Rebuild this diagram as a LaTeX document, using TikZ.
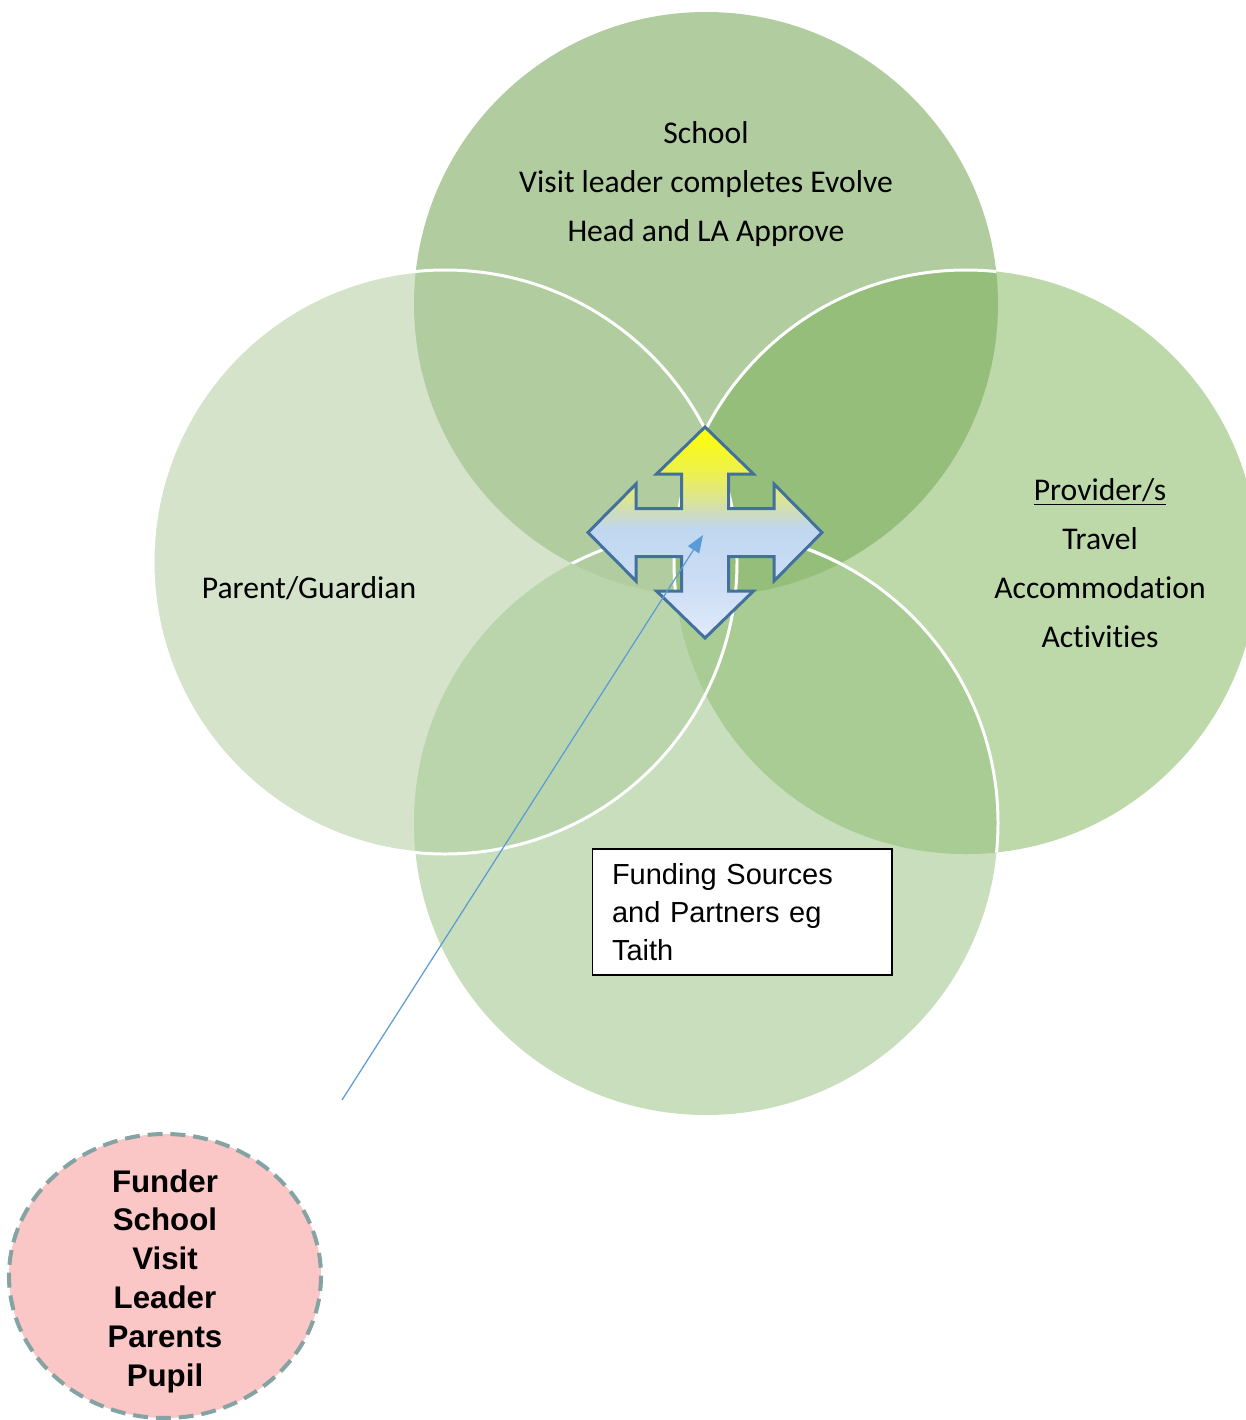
\documentclass[tikz,border=0pt]{standalone}
\usepackage{fontspec}
\setmainfont{Carlito}[RawFeature={-liga}]
\newfontfamily\arialfont{Liberation Sans}
\usetikzlibrary{arrows.meta,shapes.geometric,positioning}

\definecolor{leftc}{HTML}{D5E3CB}
\definecolor{topc}{HTML}{B1CD9F}
\definecolor{rightc}{HTML}{BDD9AA}
\definecolor{botc}{HTML}{C8DEBC}
\definecolor{leftbotc}{HTML}{BAD5AC}
\definecolor{toprightc}{HTML}{96BE7B}
\definecolor{rightbotc}{HTML}{A8CC94}
\definecolor{quadline}{HTML}{41719C}
\definecolor{pointerc}{HTML}{5B9BD5}
\definecolor{pinkc}{HTML}{FBC6C6}
\definecolor{dashc}{HTML}{86A3A3}
\definecolor{q0}{RGB}{225,235,250}
\definecolor{q1}{RGB}{205,222,245}
\definecolor{q2}{RGB}{192,215,240}
\definecolor{q3}{RGB}{205,220,190}
\definecolor{q4}{RGB}{220,228,150}
\definecolor{q5}{RGB}{236,240,80}
\pgfdeclareverticalshading{quadfill}{100bp}{color(0bp)=(q0); color(25bp)=(q0);
  color(37bp)=(q1); color(51bp)=(q2); color(54.6bp)=(q3); color(57.7bp)=(q4);
  color(64bp)=(q5); color(75bp)=(yellow); color(100bp)=(yellow)}

\tikzset{
  venntext/.style={font=\fontsize{18}{27.9}\selectfont, align=center, inner sep=0},
  rim/.style={white, line width=1.7pt},
  quad/.style={shade, shading=quadfill, draw=quadline, line width=1.7pt, line join=miter},
  pointer/.style={draw=pointerc, line width=0.7pt, -{Triangle[length=10pt,width=7.5pt]}},
  fundbox/.style={draw, fill=white, line width=0.6pt, align=left, text width=5.2cm,
    inner xsep=0.4cm, minimum height=2.52cm,
    font=\arialfont\fontsize{16.5}{21.6}\selectfont},
  team/.style={align=center, inner sep=0, font=\arialfont\bfseries\fontsize{17.8}{22.1}\selectfont},
  teamring/.style={fill=pinkc, draw=dashc, line width=2.3pt, dash pattern=on 8.5pt off 4.5pt}
}

\begin{document}
\begin{tikzpicture}[x=0.02cm, y=-0.02cm]
  \useasboundingbox (0,0) rectangle (1246,1420);
  \coordinate (top) at (706,304);
  \coordinate (left) at (445,562);
  \coordinate (right) at (966,562);
  \coordinate (bot) at (706,823);

  \fill[leftc] (left) circle[radius=292];
  \fill[botc] (bot) circle[radius=292];
  \begin{scope}
    \clip (left) circle[radius=292];
    \fill[leftbotc] (bot) circle[radius=292];
  \end{scope}
  \fill[topc] (top) circle[radius=292];
  \fill[rightc] (right) circle[radius=292];
  \begin{scope}
    \clip (right) circle[radius=292];
    \fill[rightbotc] (bot) circle[radius=292];
    \fill[toprightc] (top) circle[radius=292];
    \draw[rim] (bot) circle[radius=292];
  \end{scope}
  \begin{scope}
    \clip (top) circle[radius=292];
    \draw[rim] (right) circle[radius=292];
    \draw[rim] (bot) circle[radius=292];
  \end{scope}
  \draw[rim] (left) circle[radius=292];

  \path
  node[venntext] (school) at (706,184) {School\\Visit leader completes Evolve\\Head and LA Approve}
  node[venntext] (parent) at (309,588) {Parent/Guardian}
  node[venntext] (provider) at (1100,563) {\underline{Provider/s}\\Travel\\Accommodation\\Activities}
  node[fundbox] (funding) at (742,912) {Funding Sources\\and Partners eg\\Taith}
  ;

  \begin{scope}[shift={(705,532.5)}]
    \path[quad] (0,-105.5) -- (48.5,-58.5) -- (23.5,-58.5) -- (23.5,-24) -- (69,-24)
      -- (69,-48.5) -- (117,0) -- (69,48.5) -- (69,24) -- (23.5,24) -- (23.5,58.5)
      -- (48.5,58.5) -- (0,105.5) -- (-48.5,58.5) -- (-23.5,58.5) -- (-23.5,24)
      -- (-69,24) -- (-69,48.5) -- (-117,0) -- (-69,-48.5) -- (-69,-24)
      -- (-23.5,-24) -- (-23.5,-58.5) -- (-48.5,-58.5) -- cycle;
  \end{scope}

  \coordinate (hub) at (703,535);
  \coordinate (tail) at (342,1100);
  \draw[pointer] (tail) -- (hub);

  \draw[teamring] (165,1276) ellipse[x radius=156, y radius=142];
  \node[team] (team) at (165,1281) {Funder\\School\\Visit\\Leader\\Parents\\Pupil};
\end{tikzpicture}
\end{document}
